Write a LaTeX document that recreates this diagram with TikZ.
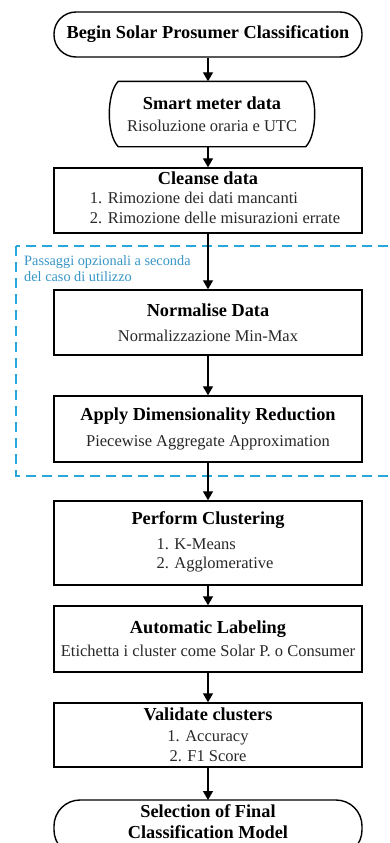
\documentclass[tikz,border=0pt]{standalone}
\usepackage{fontspec}
\setmainfont{Liberation Serif}
\usetikzlibrary{arrows.meta}
\definecolor{dashblue}{RGB}{40,168,218}
\definecolor{txtblue}{RGB}{55,150,200}
\definecolor{subgray}{RGB}{40,40,40}
\newcommand{\ttl}[1]{{\color{black}\fontsize{18.3}{20}\selectfont\bfseries #1}}
\begin{document}
\begin{tikzpicture}[x=1pt,y=-1pt,
  box/.style={draw, line width=1.4pt, minimum width=308pt, inner sep=0pt, align=center,
    font=\fontsize{16.5}{19.5}\selectfont, text=subgray},
  term/.style={box, rounded corners=22pt, text=black},
  arr/.style={line width=1.3pt, -{Triangle[length=9pt,width=10pt]}},
]
\useasboundingbox (0,0) rectangle (390,843);
\fill[white] (0,0) rectangle (390,843);

% optional steps region
\draw[dashblue, line width=1.8pt, dash pattern=on 10pt off 6pt] (16,246) rectangle (420,476);
\node[anchor=west, text=txtblue, font=\fontsize{14.3}{16}\selectfont, align=left, inner sep=0pt] (opt) at (24,269)
  {Passaggi opzionali a seconda\\del caso di utilizzo};

\node[term, minimum height=45pt] (begin) at (208,34.5) {\ttl{Begin Solar Prosumer Classification}};

\node[box, draw=none, minimum width=186pt, minimum height=64pt] (sm) at (212,114)
  {\ttl{Smart meter data}\\[2pt]Risoluzione oraria e UTC};
\draw[line width=1.4pt] (sm.north west) -- (sm.north east)
  .. controls +(12,12) and +(12,-12) .. (sm.south east)
  -- (sm.south west)
  .. controls +(-12,-12) and +(-12,12) .. (sm.north west) -- cycle;

\node[box, minimum height=65pt] (clean) at (208,200.5)
  {\ttl{Cleanse data}\\\hspace*{14pt}\begin{tabular}[t]{@{}l@{}}1. Rimozione dei dati mancanti\\2. Rimozione delle misurazioni errate\end{tabular}};

\node[box, minimum height=65pt] (norm) at (208,322.5)
  {\ttl{Normalise Data}\\[5pt]Normalizzazione Min-Max};

\node[box, minimum height=66pt] (dim) at (208,429)
  {\ttl{Apply Dimensionality Reduction}\\[7pt]Piecewise Aggregate Approximation};

\node[box, minimum height=84pt] (clus) at (208,543)
  {\ttl{Perform Clustering}\\[5pt]\hspace*{14pt}\begin{tabular}[t]{@{}l@{}}1. K-Means\\2. Agglomerative\end{tabular}};

\node[box, minimum height=66pt] (lab) at (208,639)
  {\ttl{Automatic Labeling}\\[3pt]Etichetta i cluster come Solar P. o Consumer};

\node[box, minimum height=64pt] (val) at (208,735)
  {\ttl{Validate clusters}\\[1pt]1. Accuracy\\[1pt]2. F1 Score};

\draw[line width=1.4pt, rounded corners=26pt] (54,800) rectangle (362,856);
\node[inner sep=0pt, align=center, font=\fontsize{18.3}{21}\selectfont\bfseries] (final) at (208,822)
  {Selection of Final\\Classification Model};
\coordinate (finaltop) at (208,800);

\draw[arr] (begin.south) -- (begin.south |- sm.north);
\draw[arr] (begin.south |- sm.south) -- (clean.north);
\draw[arr] (clean) -- (norm);
\draw[arr] (norm) -- (dim);
\draw[arr] (dim) -- (clus);
\draw[arr] (clus) -- (lab);
\draw[arr] (lab) -- (val);
\draw[arr] (val) -- (finaltop);
\end{tikzpicture}
\end{document}
